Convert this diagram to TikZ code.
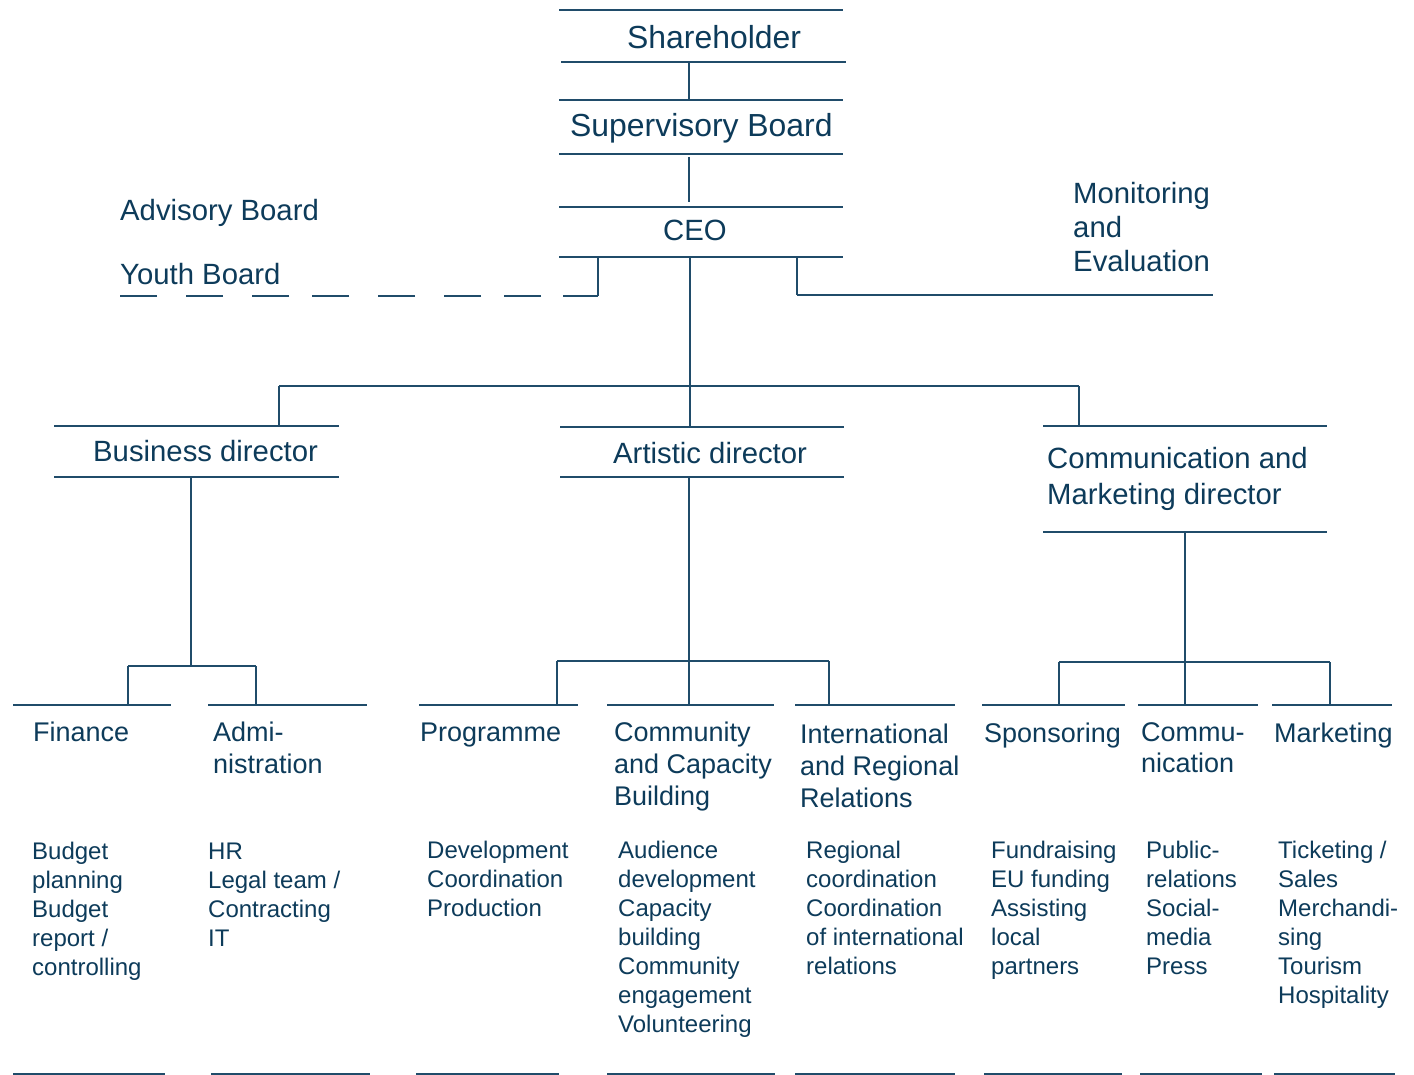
\documentclass[tikz,border=0pt]{standalone}
\usepackage{fontspec}
\setmainfont{Liberation Sans}
\definecolor{ink}{RGB}{13,59,90}
\definecolor{rule}{RGB}{32,76,106}
% several lines, first baseline is the box baseline, fixed line distance
\newcommand\stacked[2]{\vtop{\let\\\cr\baselineskip=#1\lineskiplimit=-50pt\lineskip=0pt\halign{##\hfil\cr#2\crcr}}}
\tikzset{
  bar/.style={draw=rule, line width=1.7pt},
  link/.style={draw=rule, line width=1.4pt},
  txt/.style={text=ink, inner sep=0pt, anchor=base west},
  head/.style={txt, font=\fontsize{31.9}{36}\selectfont},
  lead/.style={txt, font=\fontsize{29.3}{34}\selectfont},
  unit/.style={txt, font=\fontsize{27}{32}\selectfont},
  task/.style={txt, font=\fontsize{24}{29}\selectfont},
}
\begin{document}
\begin{tikzpicture}[x=1pt, y=-1pt]
\useasboundingbox (0,0) rectangle (1414,1075);
\fill[white] (0,0) rectangle (1414,1075);

% ---------- top chain ----------
\node[head] (sh) at (627,49) {Shareholder};
\node[head] (sv) at (570,137) {Supervisory Board};
\node[lead] (ceo) at (663,241) {CEO};
\node[lead] (adv) at (120,221) {Advisory Board};
\node[lead] (yth) at (120,285) {Youth Board};
\node[lead] (mon) at (1073,204) {\stacked{34pt}{Monitoring\\and\\Evaluation}};

\draw[bar] (559,10) -- (843,10);
\draw[bar] (561,62) -- (846,62);
\draw[bar] (559,100) -- (843,100);
\draw[bar] (559,154) -- (843,154);
\draw[bar] (559,207) -- (843,207);
\draw[bar] (559,257) -- (843,257);

\coordinate (shB) at (689,62);
\coordinate (svT) at (689,100);
\coordinate (svB) at (689,157);
\coordinate (ceoT) at (689,202);
\coordinate (ceoBL) at (598,257);
\coordinate (ceoBM) at (690,257);
\coordinate (ceoBR) at (797,257);
\coordinate (ythE) at (598,296);
\coordinate (ythW) at (120,296);
\coordinate (monW) at (797,295);
\coordinate (monE) at (1213,295);

\draw[link] (shB) -- (svT);
\draw[link] (svB) -- (ceoT);
\draw[link] (ceoBL) -- (ythE);
\draw[bar, dash pattern=on 35pt off 22pt on 37pt off 23pt on 37pt off 29pt on 37pt off 29pt on 37pt off 23pt on 37pt off 29pt on 37pt off 29pt on 37pt off 100pt] (ythE) -- (ythW);
\draw[link] (ceoBR) -- (monW);
\draw[bar] (monW) -- (monE);

% ---------- directors ----------
\node[lead] (bus) at (93,461) {Business director};
\node[lead] (art) at (613,463) {Artistic director};
\node[lead] (com) at (1047,468) {\stacked{36pt}{Communication and\\Marketing director}};

\draw[bar] (54,426) -- (339,426);
\draw[bar] (54,477) -- (339,477);
\draw[bar] (560,427) -- (844,427);
\draw[bar] (560,477) -- (844,477);
\draw[bar] (1043,426) -- (1327,426);
\draw[bar] (1043,532) -- (1327,532);

\coordinate (artT) at (690,427);
\coordinate (forkL) at (279,386);
\coordinate (forkR) at (1079,386);
\coordinate (busT) at (279,426);
\coordinate (comT) at (1079,426);

\draw[link] (ceoBM) -- (artT);
\draw[link] (forkL) -- (forkR);
\draw[link] (forkL) -- (busT);
\draw[link] (forkR) -- (comT);

% ---------- departments ----------
\node[unit] (fin) at (33,741) {Finance};
\node[unit] (adm) at (213,741) {\stacked{32pt}{Admi-\\nistration}};
\node[unit] (prg) at (420,741) {Programme};
\node[unit] (ccb) at (614,741) {\stacked{32pt}{Community\\and Capacity\\Building}};
\node[unit] (irr) at (800,743) {\stacked{32pt}{International\\and Regional\\Relations}};
\node[unit] (spo) at (984,742) {Sponsoring};
\node[unit] (cmm) at (1141,741) {\stacked{31pt}{Commu-\\nication}};
\node[unit] (mkt) at (1274,742) {Marketing};

\draw[bar] (13,705) -- (171,705);
\draw[bar] (208,705) -- (367,705);
\draw[bar] (419,705) -- (578,705);
\draw[bar] (607,705) -- (774,705);
\draw[bar] (795,705) -- (955,705);
\draw[bar] (982,705) -- (1125,705);
\draw[bar] (1138,705) -- (1258,705);
\draw[bar] (1272,705) -- (1392,705);

% business branch
\coordinate (busB) at (191,477);
\coordinate (busF) at (191,666);
\coordinate (bfL) at (128,666);
\coordinate (bfR) at (256,666);
\coordinate (finT) at (128,705);
\coordinate (admT) at (256,705);
\draw[link] (busB) -- (busF);
\draw[bar] (bfL) -- (bfR);
\draw[link] (bfL) -- (finT);
\draw[link] (bfR) -- (admT);

% artistic branch
\coordinate (artB) at (689,477);
\coordinate (ccbT) at (689,705);
\coordinate (afL) at (557,661);
\coordinate (afR) at (829,661);
\coordinate (prgT) at (557,705);
\coordinate (irrT) at (829,705);
\draw[link] (artB) -- (ccbT);
\draw[bar] (afL) -- (afR);
\draw[link] (afL) -- (prgT);
\draw[link] (afR) -- (irrT);

% communication branch
\coordinate (comB) at (1185,532);
\coordinate (cmmT) at (1185,705);
\coordinate (cfL) at (1059,662);
\coordinate (cfR) at (1330,662);
\coordinate (spoT) at (1059,705);
\coordinate (mktT) at (1330,705);
\draw[link] (comB) -- (cmmT);
\draw[bar] (cfL) -- (cfR);
\draw[link] (cfL) -- (spoT);
\draw[link] (cfR) -- (mktT);

% ---------- tasks ----------
\node[task] (finT1) at (32,859) {\stacked{29pt}{Budget\\planning\\Budget\\report /\\controlling}};
\node[task] (admT1) at (208,859) {\stacked{29pt}{HR\\Legal team /\\Contracting\\IT}};
\node[task] (prgT1) at (427,858) {\stacked{29pt}{Development\\Coordination\\Production}};
\node[task] (ccbT1) at (618,858) {\stacked{29pt}{Audience\\development\\Capacity\\building\\Community\\engagement\\Volunteering}};
\node[task] (irrT1) at (806,858) {\stacked{29pt}{Regional\\coordination\\Coordination\\of international\\relations}};
\node[task] (spoT1) at (991,858) {\stacked{29pt}{Fundraising\\EU funding\\Assisting\\local\\partners}};
\node[task] (cmmT1) at (1146,858) {\stacked{29pt}{Public-\\relations\\Social-\\media\\Press}};
\node[task] (mktT1) at (1278,858) {\stacked{29pt}{Ticketing /\\Sales\\Merchandi-\\sing\\Tourism\\Hospitality}};

\draw[bar] (13,1074) -- (165,1074);
\draw[bar] (211,1074) -- (370,1074);
\draw[bar] (416,1074) -- (559,1074);
\draw[bar] (607,1074) -- (775,1074);
\draw[bar] (795,1074) -- (955,1074);
\draw[bar] (984,1074) -- (1122,1074);
\draw[bar] (1140,1074) -- (1262,1074);
\draw[bar] (1274,1074) -- (1395,1074);
\end{tikzpicture}
\end{document}
